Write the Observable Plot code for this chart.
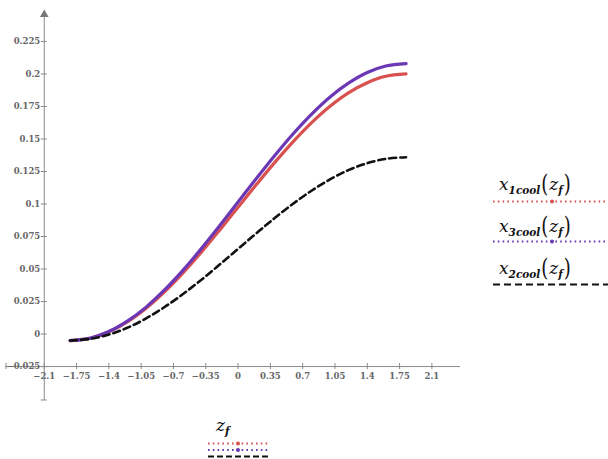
<!DOCTYPE html>
<html><head><meta charset="utf-8">
<script src="https://cdn.jsdelivr.net/npm/d3@7"></script>
<script src="https://cdn.jsdelivr.net/npm/@observablehq/plot@0.6"></script>
<style>
body{margin:0;background:#fff}
#wrap{position:relative;width:608px;height:459px;overflow:hidden;background:#fff}
#wrap svg{display:block}
.lab{position:absolute;font-family:"DejaVu Serif","Liberation Serif","Times New Roman",serif;color:#111;white-space:nowrap;line-height:1}
.v{font-style:italic;font-size:17px}
.sub{font-style:italic;font-weight:bold;font-size:10.5px;position:relative;top:4px}
.par{font-size:18px;display:inline-block;transform:scaleY(1.35);position:relative;top:0px;margin:0 1px}
#leg{position:absolute;left:0;top:0}
</style></head><body><div id="wrap"></div>
<script>
// Data
const zf     = [-1.82, -1.6, -1.4, -1.2, -1.0, -0.8, -0.6, -0.4, -0.2, 0, 0.2, 0.4, 0.6, 0.8, 1.0, 1.2, 1.4, 1.6, 1.82];
const x1cool = [-0.005, -0.0032, 0.0017, 0.0093, 0.0196, 0.0322, 0.0468, 0.0628, 0.0799, 0.0975, 0.1151, 0.1322, 0.1482, 0.1628, 0.1754, 0.1857, 0.1933, 0.1982, 0.2000];
const x3cool = [-0.005, -0.0031, 0.0019, 0.0099, 0.0205, 0.0337, 0.0488, 0.0655, 0.0832, 0.1015, 0.1198, 0.1375, 0.1542, 0.1693, 0.1825, 0.1931, 0.2011, 0.2061, 0.2080];
const x2cool = [-0.005, -0.0037, -0.0004, 0.0048, 0.0119, 0.0206, 0.0306, 0.0416, 0.0534, 0.0655, 0.0776, 0.0894, 0.1004, 0.1104, 0.1191, 0.1262, 0.1314, 0.1347, 0.1360];

const xTicks = [-2.1, -1.75, -1.4, -1.05, -0.7, -0.35, 0, 0.35, 0.7, 1.05, 1.4, 1.75, 2.1];
const xTickLabels = ["\u22122.1", "\u22121.75", "\u22121.4", "\u22121.05", "\u22120.7", "\u22120.35", "0", "0.35", "0.7", "1.05", "1.4", "1.75", "2.1"];
const yTicks = [-0.025, 0, 0.025, 0.05, 0.075, 0.1, 0.125, 0.15, 0.175, 0.2, 0.225];
const yTickLabels = ["\u22120.025", "0", "0.025", "0.05", "0.075", "0.1", "0.125", "0.15", "0.175", "0.2", "0.225"];

const xDomain = [-2.52, 2.41];
const yDomain = [-0.0511, 0.2488];
const xAxisAt = -0.025;   // x axis crosses at y = -0.025
const yAxisAt = -2.1;     // y axis crosses at x = -2.1

const W = 608, H = 459, mL = 5, mR = 148, mT = 10, mB = 59;
const pxX = (xDomain[1] - xDomain[0]) / (W - mL - mR);
const pxY = (yDomain[1] - yDomain[0]) / (H - mT - mB);

const RED = "#d9514f", PURPLE = "#6b37b5", AX = "#8a8a8a", TXT = "#666";
const TICKFONT = "'DejaVu Serif', 'Liberation Serif', serif";

const rows = (ys) => zf.map((x, i) => ({x, y: ys[i]}));

const chart = Plot.plot({
  width: W, height: H,
  marginLeft: mL, marginRight: mR, marginTop: mT, marginBottom: mB,
  x: {domain: xDomain, axis: null},
  y: {domain: yDomain, axis: null},
  style: {background: "white", fontFamily: TICKFONT},
  marks: [
    Plot.ruleX([yAxisAt], {y1: yDomain[0], y2: yDomain[1] - 4 * pxY, stroke: AX, strokeWidth: 1}),
    Plot.ruleY([xAxisAt], {x1: xDomain[0], x2: xDomain[1], stroke: AX, strokeWidth: 1}),
    Plot.ruleY([yDomain[0] + 0.5 * pxY], {x1: yAxisAt - 3 * pxX, x2: yAxisAt + 3 * pxX, stroke: AX}),
    Plot.ruleX([xDomain[0] + 0.5 * pxX], {y1: xAxisAt - 3 * pxY, y2: xAxisAt + 3 * pxY, stroke: AX}),
    Plot.dot([yDomain[1]], {x: () => yAxisAt, y: d => d - 4 * pxY, symbol: "triangle", r: 3.2, fill: "#777", stroke: null}),
    Plot.ruleX(xTicks, {x: d => d, y1: xAxisAt - 3 * pxY, y2: xAxisAt + 3 * pxY, stroke: AX}),
    Plot.ruleY(yTicks, {y: d => d, x1: yAxisAt - 3 * pxX, x2: yAxisAt + 3 * pxX, stroke: AX}),
    Plot.text(xTicks, {x: d => d, y: xAxisAt, text: (d, i) => xTickLabels[i], dy: 10, fill: TXT,
      fontFamily: TICKFONT, fontSize: 8.5, fontWeight: "bold", lineAnchor: "middle"}),
    Plot.text(yTicks, {x: yAxisAt, y: d => d, text: (d, i) => yTickLabels[i], dx: -4, textAnchor: "end", fill: TXT,
      fontFamily: TICKFONT, fontSize: 8.5, fontWeight: "bold", lineAnchor: "middle"}),
    Plot.line(rows(x1cool), {x: "x", y: "y", stroke: RED, strokeWidth: 3.2, curve: "catmull-rom"}),
    Plot.line(rows(x3cool), {x: "x", y: "y", stroke: PURPLE, strokeWidth: 3.2, curve: "catmull-rom"}),
    Plot.line(rows(x2cool), {x: "x", y: "y", stroke: "#111", strokeWidth: 2.6, strokeDasharray: "7,4", curve: "catmull-rom"})
  ]
});

const wrap = document.getElementById("wrap");
wrap.appendChild(chart);

const legendLines = [
  {x1: 493, x2: 608, y: 201.5, color: RED, dash: "1.6,3.2", w: 2, mid: 552},
  {x1: 493, x2: 608, y: 241.5, color: PURPLE, dash: "1.6,3.2", w: 2, mid: 552},
  {x1: 493, x2: 608, y: 284.5, color: "#111", dash: "7,4", w: 2.2, mid: null},
  {x1: 208, x2: 268, y: 443.5, color: RED, dash: "1.6,3.2", w: 2, mid: 238},
  {x1: 208, x2: 268, y: 450, color: PURPLE, dash: "1.6,3.2", w: 2, mid: 238},
  {x1: 208, x2: 268, y: 456.5, color: "#111", dash: "6,3", w: 2.2, mid: null}
];
const ns = "http://www.w3.org/2000/svg";
const leg = document.createElementNS(ns, "svg");
leg.setAttribute("id", "leg"); leg.setAttribute("width", W); leg.setAttribute("height", H);
for (const l of legendLines) {
  const ln = document.createElementNS(ns, "line");
  ln.setAttribute("x1", l.x1); ln.setAttribute("x2", l.x2);
  ln.setAttribute("y1", l.y); ln.setAttribute("y2", l.y);
  ln.setAttribute("stroke", l.color); ln.setAttribute("stroke-width", l.w);
  ln.setAttribute("stroke-dasharray", l.dash);
  leg.appendChild(ln);
  if (l.mid) {
    const c = document.createElementNS(ns, "circle");
    c.setAttribute("cx", l.mid); c.setAttribute("cy", l.y); c.setAttribute("r", 2);
    c.setAttribute("fill", l.color);
    leg.appendChild(c);
  }
}
wrap.appendChild(leg);

const labels = [
  {left: 499, top: 175, html: '<span class="v">x</span><span class="sub">1cool</span><span class="par">(</span><span class="v">z</span><span class="sub">f</span><span class="par">)</span>'},
  {left: 499, top: 217, html: '<span class="v">x</span><span class="sub">3cool</span><span class="par">(</span><span class="v">z</span><span class="sub">f</span><span class="par">)</span>'},
  {left: 499, top: 259, html: '<span class="v">x</span><span class="sub">2cool</span><span class="par">(</span><span class="v">z</span><span class="sub">f</span><span class="par">)</span>'},
  {left: 216, top: 417, html: '<span class="v">z</span><span class="sub">f</span>'}
];
for (const l of labels) {
  const d = document.createElement("div");
  d.className = "lab";
  d.style.left = l.left + "px"; d.style.top = l.top + "px";
  d.innerHTML = l.html;
  wrap.appendChild(d);
}
</script>
</body></html>
